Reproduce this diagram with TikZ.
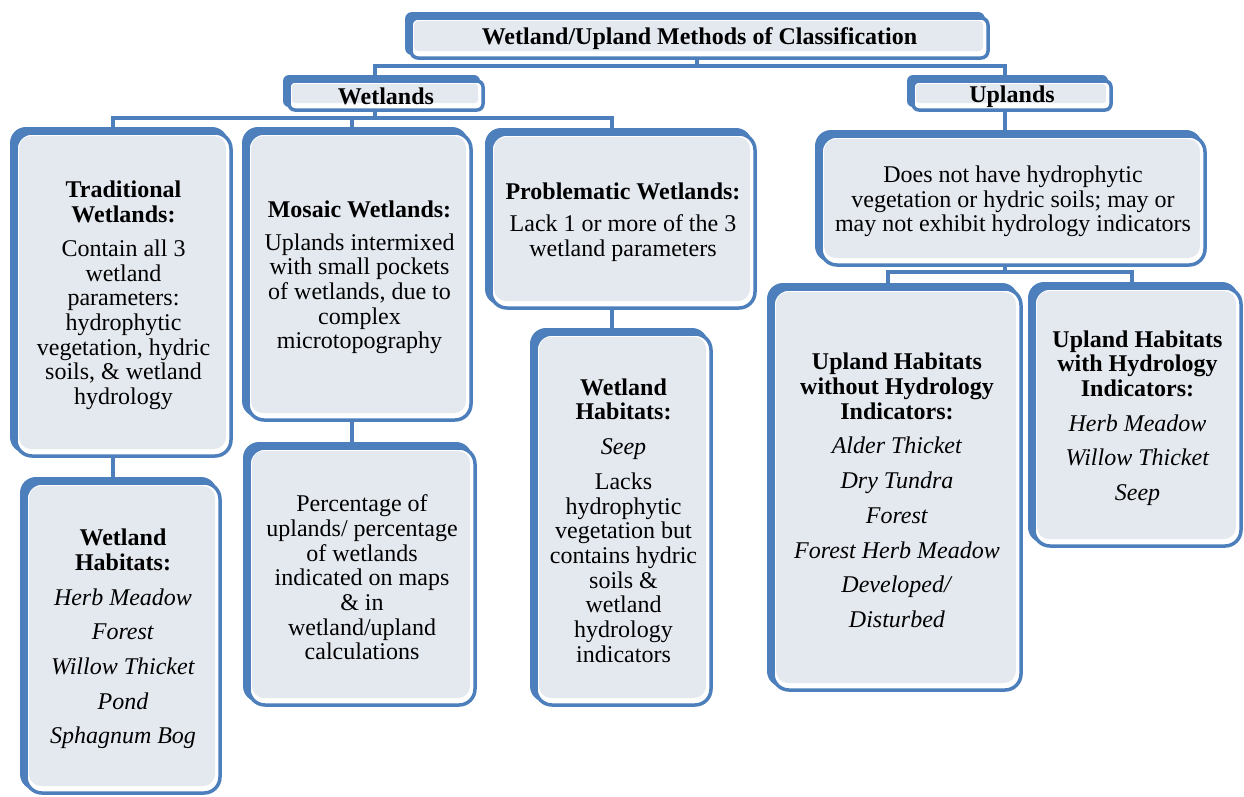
\documentclass[tikz,border=0pt]{standalone}
\usepackage{fontspec}
\setmainfont{Liberation Serif}
\usetikzlibrary{backgrounds}
\definecolor{bblue}{RGB}{76,127,188}
\definecolor{bgray}{RGB}{228,232,239}
\tikzset{
  conn/.style={bblue,line width=4.5pt},
  boxtext/.style={align=center,inner sep=0pt,font=\fontsize{24}{24.7}\selectfont},
  boxarea/.style={inner sep=0pt,draw=none},
}
% name, L, T, R, B, outer radius, inner radius, text
\newcommand\fbx[8]{%
  \fill[bblue,rounded corners=#6] (#2,#3) rectangle (#4-5,#5-5);
  \filldraw[fill=white,draw=bblue,line width=3.5pt,rounded corners=#6] (#2+6,#3+6) rectangle (#4-2,#5-2);
  \fill[bgray,rounded corners=#7] (#2+9,#3+9) rectangle (#4-7,#5-9);
  \node[boxarea,minimum width={#4-#2},minimum height={#5-#3},anchor=north west] (#1) at (#2,#3) {};
  \node[boxtext] (#1-t) at ({(#2+#4)/2+2},{(#3+#5)/2+3}) {#8};
}
\begin{document}
\begin{tikzpicture}[x=1pt,y=-1pt]
\useasboundingbox (0,0) rectangle (1244,796);
\begin{pgfonlayer}{background}
\fill[white] (0,0) rectangle (1244,796);
\end{pgfonlayer}

\fbx{title}{405}{12}{990}{60}{7pt}{4pt}{\textbf{Wetland/Upland Methods of Classification}}
\fbx{wet}{283}{75}{485}{112}{6pt}{3pt}{\textbf{Wetlands}}
\fbx{upl}{907}{75}{1113}{112}{6pt}{3pt}{\textbf{Uplands}}

\fbx{trad}{10}{127}{233}{458}{16pt}{12pt}{\textbf{Traditional}\\\textbf{Wetlands:}\\[9pt]Contain all 3\\wetland\\parameters:\\hydrophytic\\vegetation, hydric\\soils, \& wetland\\hydrology}
\fbx{mos}{242}{127}{473}{422}{16pt}{12pt}{\textbf{Mosaic Wetlands:}\\[8pt]Uplands intermixed\\with small pockets\\of wetlands, due to\\complex\\microtopography}
\fbx{prob}{485}{128}{757}{310}{16pt}{12pt}{\textbf{Problematic Wetlands:}\\[8pt]Lack 1 or more of the 3\\wetland parameters}
\fbx{dnh}{815}{130}{1207}{267}{16pt}{12pt}{Does not have hydrophytic\\vegetation or hydric soils; may or\\may not exhibit hydrology indicators}

\fbx{wha}{20}{477}{222}{795}{16pt}{12pt}{\textbf{Wetland}\\\textbf{Habitats:}\\[10pt]\textit{Herb Meadow}\\[10pt]\textit{Forest}\\[10pt]\textit{Willow Thicket}\\[10pt]\textit{Pond}\\[10pt]\textit{Sphagnum Bog}}
\fbx{pct}{243}{442}{477}{707}{16pt}{12pt}{Percentage of\\uplands/ percentage\\of wetlands\\indicated on maps\\\& in\\wetland/upland\\calculations}
\fbx{whb}{530}{328}{713}{707}{16pt}{12pt}{\textbf{Wetland}\\\textbf{Habitats:}\\[10pt]\textit{Seep}\\[10pt]Lacks\\hydrophytic\\vegetation but\\contains hydric\\soils \&\\wetland\\hydrology\\indicators}
\fbx{uwo}{767}{283}{1023}{692}{16pt}{12pt}{\textbf{Upland Habitats}\\\textbf{without Hydrology}\\\textbf{Indicators:}\\[10pt]\textit{Alder Thicket}\\[10pt]\textit{Dry Tundra}\\[10pt]\textit{Forest}\\[10pt]\textit{Forest Herb Meadow}\\[10pt]\textit{Developed/}\\[10pt]\textit{Disturbed}}
\fbx{uw}{1028}{282}{1243}{548}{16pt}{12pt}{\textbf{Upland Habitats}\\\textbf{with Hydrology}\\\textbf{Indicators:}\\[10pt]\textit{Herb Meadow}\\[10pt]\textit{Willow Thicket}\\[10pt]\textit{Seep}}

% junction coordinates
\coordinate (j0) at (697,66);
\coordinate (jw) at (375,66);
\coordinate (ju) at (1005,66);
\coordinate (k0) at (375,118);
\coordinate (kt) at (113,118);
\coordinate (km) at (352,118);
\coordinate (kp) at (612,118);
\coordinate (u0) at (1005,272);
\coordinate (ua) at (888,272);
\coordinate (ub) at (1132,272);

\begin{pgfonlayer}{background}
\draw[conn] (j0 |- title.south) -- (j0);
\draw[conn] (jw |- wet.north) -- (jw) -- (ju) -- (ju |- upl.north);
\draw[conn] (k0 |- wet.south) -- (k0);
\draw[conn] (kt |- trad.north) -- (kt) -- (kp) -- (kp |- prob.north);
\draw[conn] (km) -- (km |- mos.north);
\draw[conn] (kt |- trad.south) -- (kt |- wha.north);
\draw[conn] (km |- mos.south) -- (km |- pct.north);
\draw[conn] (kp |- prob.south) -- (kp |- whb.north);
\draw[conn] (ju |- upl.south) -- (ju |- dnh.north);
\draw[conn] (u0 |- dnh.south) -- (u0);
\draw[conn] (ua |- uwo.north) -- (ua) -- (ub) -- (ub |- uw.north);
\end{pgfonlayer}
\end{tikzpicture}
\end{document}
